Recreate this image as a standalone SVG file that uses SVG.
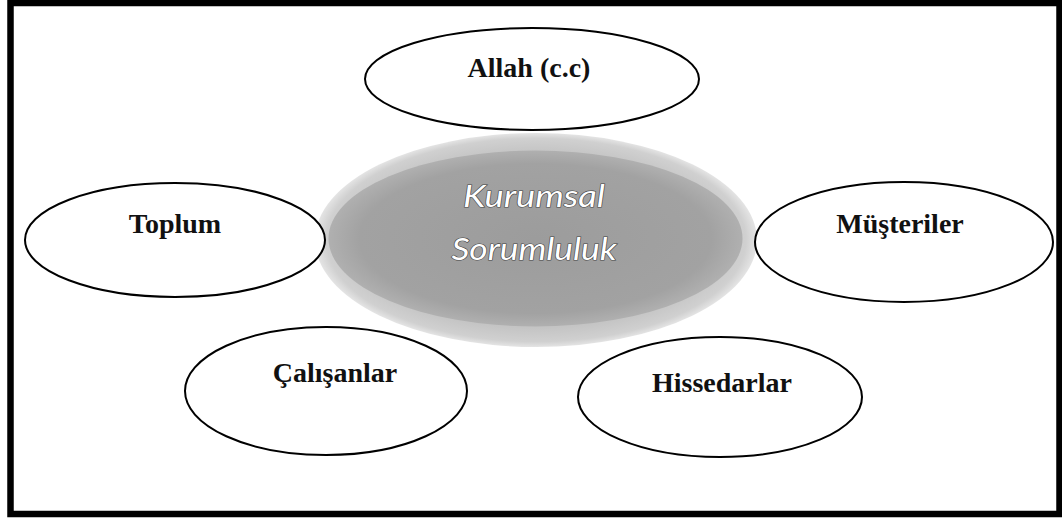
<svg xmlns="http://www.w3.org/2000/svg" width="1062" height="521" viewBox="0 0 1062 521">
  <defs>
    <style>
      .node { fill: #ffffff; stroke: #000000; stroke-width: 2; }
      .lbl { font-family: "Liberation Serif", "Times New Roman", serif; font-weight: bold; font-size: 28px; fill: #111111; text-anchor: middle; }
      .center-lbl { font-family: Lato, "Open Sans", "Liberation Sans", sans-serif; font-style: italic; font-size: 31px; fill: #ffffff; stroke: #444444; stroke-width: 1.2; paint-order: stroke; text-anchor: middle; }
    </style>
    <radialGradient id="glow" cx="50%" cy="50%" r="50%">
      <stop offset="0.82" stop-color="#c4c4c4"/>
      <stop offset="0.95" stop-color="#d0d0d0"/>
      <stop offset="1" stop-color="#e4e4e4"/>
    </radialGradient>
    <radialGradient id="core" cx="50%" cy="50%" r="50%">
      <stop offset="0" stop-color="#9c9c9c"/>
      <stop offset="0.85" stop-color="#a2a2a2"/>
      <stop offset="1" stop-color="#b0b0b0"/>
    </radialGradient>
  </defs>
  <rect x="0" y="0" width="1062" height="521" fill="#ffffff"/>
  <rect x="10.5" y="3" width="1049" height="511" fill="none" stroke="#000000" stroke-width="6.5"/>

  <g id="center">
    <ellipse cx="536" cy="240" rx="221" ry="107" fill="url(#glow)"/>
    <ellipse cx="535.5" cy="238.5" rx="207" ry="88" fill="url(#core)"/>
    <text class="center-lbl" x="534" y="207" textLength="142" lengthAdjust="spacingAndGlyphs">Kurumsal</text>
    <text class="center-lbl" x="534" y="260" textLength="165" lengthAdjust="spacingAndGlyphs">Sorumluluk</text>
  </g>

  <g id="connectors"></g>

  <g id="allah">
    <ellipse class="node" cx="532" cy="79" rx="167" ry="51"/>
    <text class="lbl" x="529" y="77">Allah (c.c)</text>
  </g>
  <g id="toplum">
    <ellipse class="node" cx="175" cy="240" rx="150" ry="57"/>
    <text class="lbl" x="175" y="233">Toplum</text>
  </g>
  <g id="musteriler">
    <ellipse class="node" cx="904" cy="242" rx="149" ry="60"/>
    <text class="lbl" x="900" y="233">Müşteriler</text>
  </g>
  <g id="calisanlar">
    <ellipse class="node" cx="326" cy="391" rx="141" ry="64"/>
    <text class="lbl" x="335" y="382">Çalışanlar</text>
  </g>
  <g id="hissedarlar">
    <ellipse class="node" cx="720" cy="397" rx="142" ry="60"/>
    <text class="lbl" x="722" y="392">Hissedarlar</text>
  </g>
</svg>
